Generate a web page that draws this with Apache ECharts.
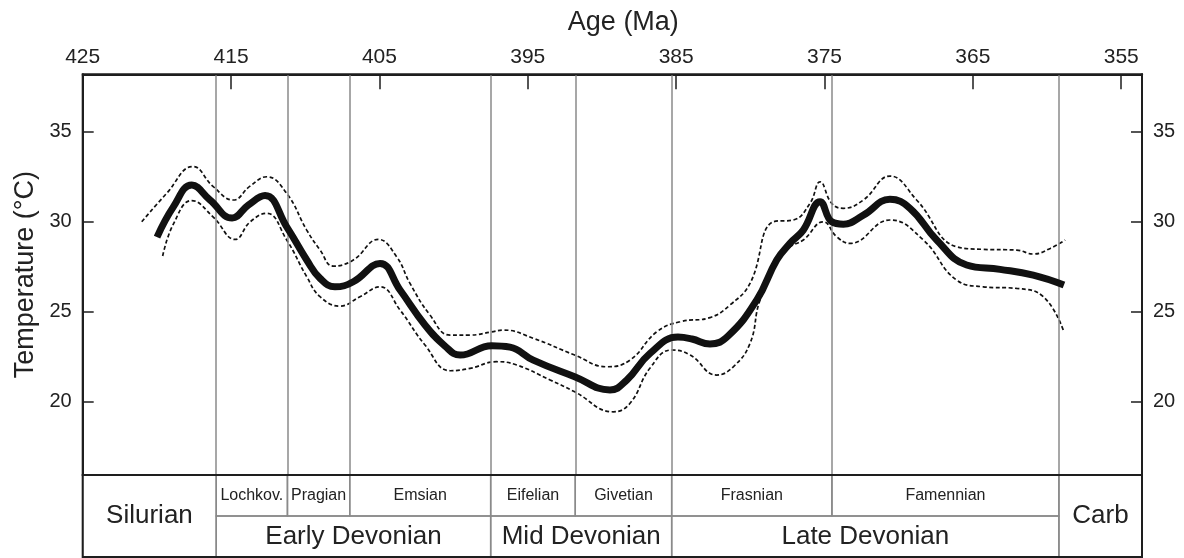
<!DOCTYPE html>
<html>
<head>
<meta charset="utf-8">
<script src="https://cdn.jsdelivr.net/npm/echarts@6/dist/echarts.min.js"></script>
<style>
html,body{margin:0;padding:0;background:#fff;}
#chart{width:1184px;height:558px;}
</style>
</head>
<body>
<div id="chart"></div>
<script>
// ---- Data ----
const ageTicks = [425, 415, 405, 395, 385, 375, 365, 355];
const tempTicks = [20, 25, 30, 35];
const boundaryAges = [416.0, 411.2, 407.0, 397.5, 391.8, 385.3, 374.5, 359.2];

const stageNames = ['Lochkov.', 'Pragian', 'Emsian', 'Eifelian', 'Givetian', 'Frasnian', 'Famennian'];
const stageStart = [416.0, 411.2, 407.0, 397.5, 391.8, 385.3, 374.5];
const stageEnd   = [411.2, 407.0, 397.5, 391.8, 385.3, 374.5, 359.2];

const epochNames = ['Early Devonian', 'Mid Devonian', 'Late Devonian'];
const epochStart = [416.0, 397.5, 385.3];
const epochEnd   = [397.5, 385.3, 359.2];

const periodNames = ['Silurian', 'Carb'];
const periodStart = [425.0, 359.2];
const periodEnd   = [416.0, 353.6];

// mean temperature curve
const meanAge  = [419.99, 418.89, 417.65, 416.42, 414.93, 413.84, 412.71, 411.25, 409.9, 409.0, 408.0, 406.76, 404.96, 403.61, 401.93, 400.58, 399.56, 397.43, 396.2, 394.63, 391.84, 389.46, 388.33, 386.76, 384.88, 383.93, 382.72, 381.5, 379.57, 378.22, 377.33, 376.43, 375.3, 374.51, 373.73, 372.38, 370.59, 369.24, 367.44, 365.42, 363.17, 360.93, 358.86];
const meanTemp = [29.14, 30.82, 32.03, 31.2, 30.2, 30.92, 31.45, 29.71, 27.87, 26.85, 26.38, 26.66, 27.68, 26.2, 24.26, 23.09, 22.59, 23.11, 23.03, 22.31, 21.39, 20.65, 21.2, 22.68, 23.59, 23.48, 23.2, 23.65, 25.64, 27.87, 28.79, 29.53, 31.1, 29.99, 29.86, 30.36, 31.24, 30.74, 28.98, 27.59, 27.35, 27.03, 26.48];

// upper confidence band
const upperAge  = [421.02, 419.34, 417.57, 416.2, 414.85, 413.72, 412.6, 411.25, 409.9, 409.0, 408.11, 406.76, 405.08, 403.84, 402.94, 401.59, 400.24, 398.89, 397.43, 396.65, 394.63, 391.84, 389.68, 388.11, 386.31, 384.74, 382.72, 381.37, 380.02, 378.45, 377.1, 375.98, 375.3, 374.51, 373.73, 372.38, 370.59, 368.79, 366.09, 364.3, 362.05, 360.93, 359.79, 358.78];
const upperTemp = [29.99, 31.57, 33.06, 31.94, 31.2, 31.97, 32.49, 31.57, 29.53, 28.42, 27.53, 27.87, 29.01, 28.05, 26.57, 24.81, 23.7, 23.7, 23.88, 23.98, 23.52, 22.59, 21.94, 22.31, 23.88, 24.44, 24.67, 25.37, 26.57, 29.99, 30.09, 31.01, 32.21, 31.01, 30.74, 31.2, 32.53, 31.2, 28.6, 28.46, 28.42, 28.2, 28.51, 28.98];

// lower confidence band
const lowerAge  = [419.61, 418.89, 417.65, 416.2, 414.73, 413.72, 412.6, 411.25, 409.9, 409.0, 407.66, 406.31, 404.96, 403.61, 401.93, 400.24, 398.89, 397.1, 395.75, 393.5, 391.84, 389.24, 388.11, 386.76, 385.31, 384.05, 382.27, 381.15, 380.02, 379.35, 378.0, 377.33, 376.43, 375.08, 374.18, 373.28, 370.59, 368.34, 366.09, 364.3, 362.05, 360.25, 358.91];
const lowerTemp = [28.09, 29.86, 31.17, 30.25, 29.01, 29.98, 30.46, 28.98, 26.94, 25.83, 25.31, 25.83, 26.38, 25.09, 23.15, 21.72, 21.85, 22.22, 22.04, 21.21, 20.55, 19.44, 19.91, 21.87, 22.87, 22.59, 21.48, 21.94, 23.24, 25.64, 28.05, 28.6, 28.98, 29.99, 29.16, 28.79, 30.09, 28.98, 26.75, 26.38, 26.29, 25.83, 23.98];

// ---- Build ----
const zip = (a, b) => a.map((v, i) => [v, b[i]]);
const FONT = '"Liberation Sans", Arial, Helvetica, sans-serif';
const DARK = '#1e1e1e';
const GRAY = '#8a8a8a';
const AGE_MIN = 353.6, AGE_MAX = 425.0;
const T_MIN = 15.93, T_MAX = 38.18;

function cellSeries(names, starts, ends, r0, r1, fontSize) {
  return {
    type: 'custom',
    xAxisIndex: 1, yAxisIndex: 2,
    silent: true, z: 3,
    data: names.map((n, i) => [starts[i], ends[i], r0, r1]),
    renderItem: function (params, api) {
      const p0 = api.coord([api.value(0), api.value(2)]);
      const p1 = api.coord([api.value(1), api.value(3)]);
      const x = Math.min(p0[0], p1[0]), y = Math.min(p0[1], p1[1]);
      const w = Math.abs(p1[0] - p0[0]), h = Math.abs(p1[1] - p0[1]);
      return {
        type: 'group',
        children: [
          { type: 'rect', shape: { x: x, y: y, width: w, height: h },
            style: { fill: 'none', stroke: GRAY, lineWidth: 1.5 } },
          { type: 'text', style: { text: names[params.dataIndex], x: x + w / 2, y: y + h / 2,
            align: 'center', verticalAlign: 'middle', fill: '#222',
            font: fontSize + 'px ' + FONT } }
        ]
      };
    }
  };
}

const chart = echarts.init(document.getElementById('chart'), null, { renderer: 'canvas' });
chart.setOption({
  animation: false,
  backgroundColor: '#fff',
  textStyle: { fontFamily: FONT },
  grid: [
    { left: 82.7, right: 42, top: 74.3, bottom: 83, show: true, z: 10,
      borderColor: DARK, borderWidth: 2, backgroundColor: 'transparent' },
    { left: 82.7, right: 42, top: 475, bottom: 1, show: true, z: 10,
      borderColor: DARK, borderWidth: 2, backgroundColor: 'transparent' }
  ],
  xAxis: [
    {
      type: 'value', gridIndex: 0, position: 'top', inverse: true,
      min: AGE_MIN, max: AGE_MAX,
      name: 'Age (Ma)', nameLocation: 'middle', nameGap: 38,
      nameTextStyle: { fontSize: 27, color: '#222', fontFamily: FONT, padding: [0, 0, 0, 22] },
      axisLine: { show: true, lineStyle: { color: DARK, width: 2 } },
      axisTick: { show: true, inside: true, length: 15, lineStyle: { color: DARK, width: 1.5 }, customValues: ageTicks },
      axisLabel: { show: true, fontSize: 21, color: '#222', margin: 7, fontFamily: FONT, customValues: ageTicks },
      splitLine: { show: false }
    },
    {
      type: 'value', gridIndex: 1, inverse: true, min: AGE_MIN, max: AGE_MAX, show: false
    }
  ],
  yAxis: [
    {
      type: 'value', gridIndex: 0, position: 'left', min: T_MIN, max: T_MAX,
      name: 'Temperature (°C)', nameLocation: 'middle', nameGap: 37, nameRotate: 90,
      nameTextStyle: { fontSize: 27, color: '#222', fontFamily: FONT },
      axisLine: { show: true, lineStyle: { color: DARK, width: 2 } },
      axisTick: { show: true, inside: true, length: 11, lineStyle: { color: DARK, width: 1.5 }, customValues: tempTicks },
      axisLabel: { show: true, fontSize: 20, color: '#222', margin: 11, fontFamily: FONT, customValues: tempTicks },
      splitLine: { show: false }
    },
    {
      type: 'value', gridIndex: 0, position: 'right', min: T_MIN, max: T_MAX,
      axisLine: { show: true, lineStyle: { color: DARK, width: 2 } },
      axisTick: { show: true, inside: true, length: 11, lineStyle: { color: DARK, width: 1.5 }, customValues: tempTicks },
      axisLabel: { show: true, fontSize: 20, color: '#222', margin: 11, fontFamily: FONT, customValues: tempTicks },
      splitLine: { show: false }
    },
    {
      type: 'value', gridIndex: 1, min: 0, max: 2, inverse: true, show: false
    }
  ],
  series: [
    {
      type: 'line', xAxisIndex: 0, yAxisIndex: 0, data: [], silent: true, z: 1,
      markLine: {
        silent: true, symbol: ['none', 'none'], label: { show: false },
        lineStyle: { color: GRAY, width: 1.5, type: 'solid' },
        data: boundaryAges.map(v => ({ xAxis: v }))
      }
    },
    {
      type: 'line', xAxisIndex: 0, yAxisIndex: 0, data: zip(upperAge, upperTemp),
      smooth: 0.45, showSymbol: false, symbol: 'none', silent: true, z: 4,
      lineStyle: { color: '#111', width: 1.7, type: [4, 2.5] }
    },
    {
      type: 'line', xAxisIndex: 0, yAxisIndex: 0, data: zip(lowerAge, lowerTemp),
      smooth: 0.45, showSymbol: false, symbol: 'none', silent: true, z: 4,
      lineStyle: { color: '#111', width: 1.7, type: [4, 2.5] }
    },
    {
      type: 'line', xAxisIndex: 0, yAxisIndex: 0, data: zip(meanAge, meanTemp),
      smooth: 0.45, showSymbol: false, symbol: 'none', silent: true, z: 5,
      lineStyle: { color: '#111', width: 7, cap: 'butt', join: 'round' }
    },
    cellSeries(stageNames, stageStart, stageEnd, 0, 1, 16),
    cellSeries(epochNames, epochStart, epochEnd, 1, 2, 26),
    cellSeries(periodNames, periodStart, periodEnd, 0, 2, 26)
  ]
});
</script>
</body>
</html>
